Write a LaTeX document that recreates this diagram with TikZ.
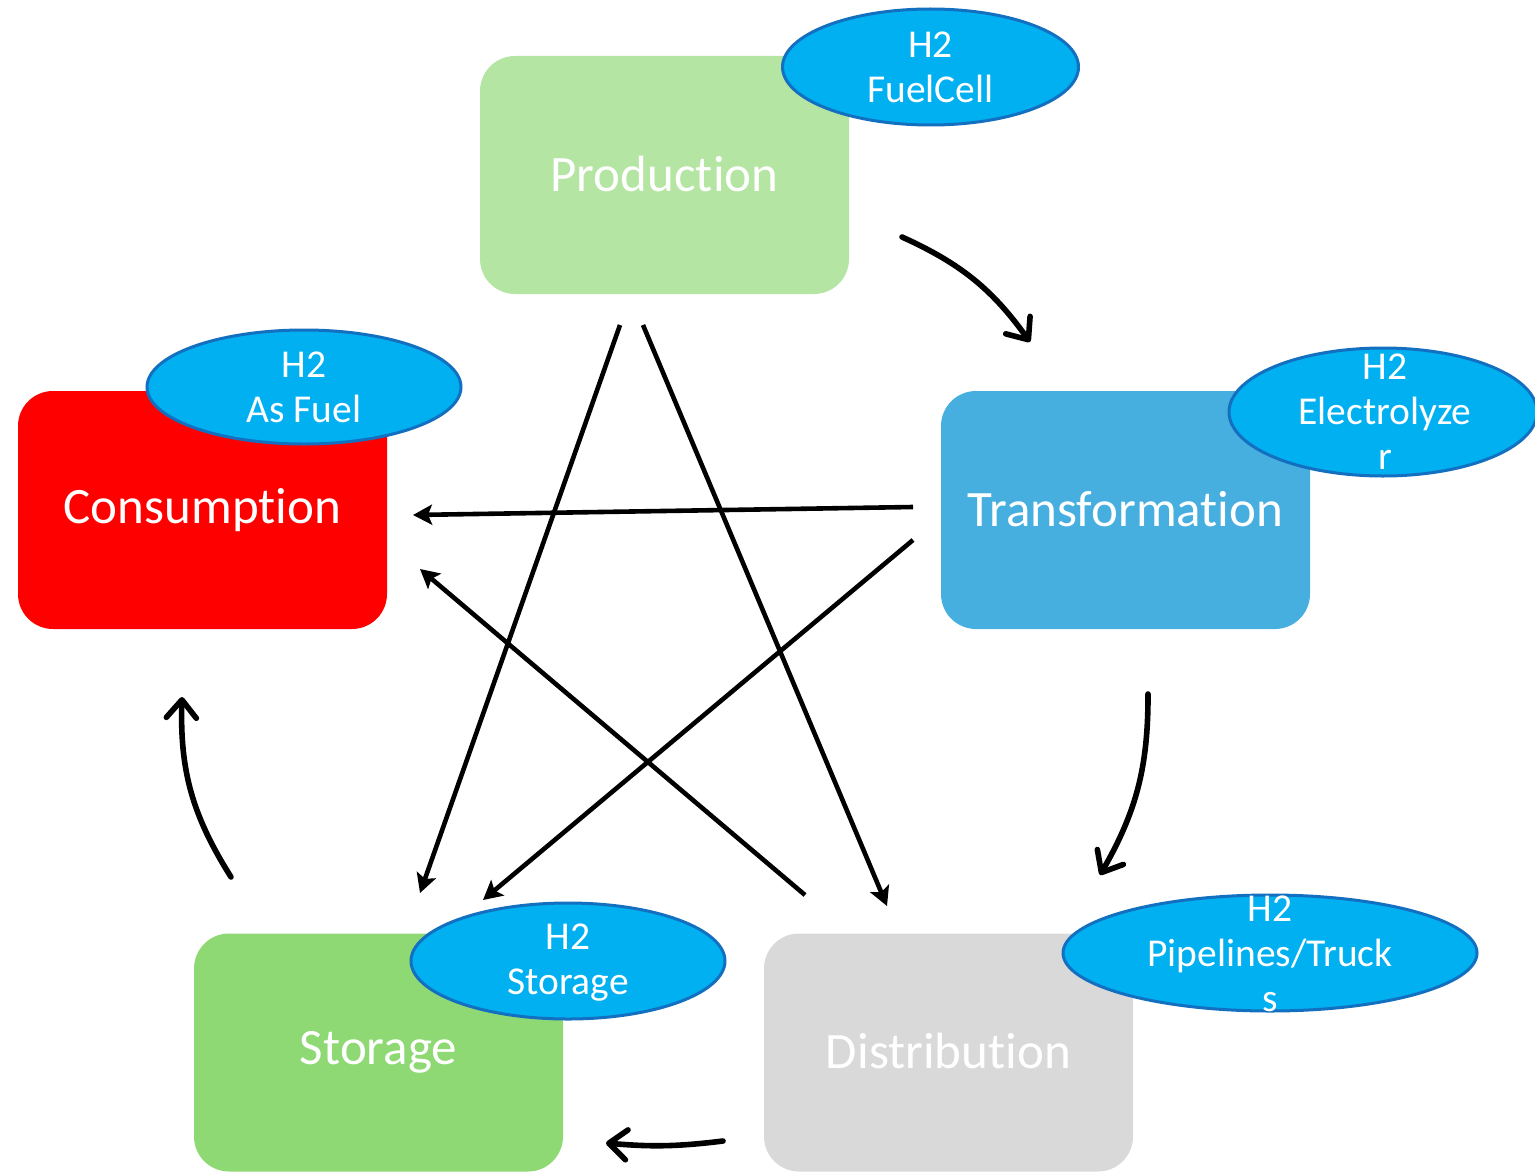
\documentclass[tikz,border=0pt]{standalone}
\usepackage{fontspec}
\newfontfamily\cf[Ligatures={NoCommon,NoContextual}]{Carlito}
\usetikzlibrary{arrows.meta,shapes.geometric}
\definecolor{prodc}{HTML}{B4E5A2}
\definecolor{consc}{HTML}{FF0000}
\definecolor{transc}{HTML}{47AFDF}
\definecolor{storc}{HTML}{8ED973}
\definecolor{distc}{HTML}{D9D9D9}
\definecolor{ellf}{HTML}{00B0F0}
\definecolor{elld}{HTML}{1370C0}
\tikzset{
  box/.style={rounded corners=17.5pt, minimum width=184.5pt, minimum height=119pt, inner sep=0pt, text=white, font=\cf\fontsize{25.5pt}{30pt}\selectfont},
  bubble/.style={ellipse, fill=ellf, draw=elld, line width=1.5pt, inner sep=0pt},
  btext/.style={text=white, align=center, inner sep=0pt, font=\cf\fontsize{19.75pt}{22.5pt}\selectfont},
  curv/.style={line width=2.8pt, -{Straight Barb[length=9pt,width=15pt,line cap=round,line join=round]}, line cap=round},
  strt/.style={line width=2.3pt, -{Stealth[length=9.5pt,width=10pt,inset=2pt]}}
}
\begin{document}
\begin{tikzpicture}[x=0.5pt,y=-0.5pt]
\useasboundingbox (0,0) rectangle (1535,1172);
% boxes
\node[box, fill=prodc] (prod) at (664.5,175) {\raisebox{1.5pt}{Production}};
\node[box, fill=consc] (cons) at (202.5,510) {\raisebox{1pt}{Consumpt\kern0pt ion}};
\node[box, fill=transc] (trans) at (1125.5,510) {\raisebox{1pt}{Transformat\kern0pt ion}};
\node[box, fill=storc] (stor) at (378.5,1052.5) {\raisebox{1.5pt}{Storage}};
\node[box, fill=distc] (dist) at (948.5,1052.5) {\raisebox{1.5pt}{Distribut\kern0pt ion}};
% bubbles
\node[bubble, minimum width=148pt, minimum height=58pt] (eFC) at (930.5,67) {};
\node[btext] (tFC) at (eFC) {H2\\FuelCell};
\node[bubble, minimum width=157pt, minimum height=57pt] (eAF) at (304,387) {};
\node[btext] (tAF) at (eAF) {H2\\As Fuel};
\node[bubble, minimum width=154pt, minimum height=64pt] (eEL) at (1383,412) {};
\node[btext] (tEL) at (1385,412) {H2\\Electrolyze\\r};
\node[bubble, minimum width=157pt, minimum height=58pt] (eST) at (568,961) {};
\node[btext] (tST) at (568,963) {H2\\Storage};
\node[bubble, minimum width=207pt, minimum height=58pt] (ePT) at (1270,953) {};
\node[btext] (tPT) at (1270,954) {H2\\Pipelines/Truck\\s};
% connector end points
\coordinate (a1s) at (902,237); \coordinate (a1e) at (1030,342);
\coordinate (a2s) at (1148,694); \coordinate (a2e) at (1100,875);
\coordinate (a3s) at (723,1141); \coordinate (a3e) at (606,1143);
\coordinate (a4s) at (231,877); \coordinate (a4e) at (182,697);
\coordinate (b1s) at (913,507); \coordinate (b1e) at (413,515);
\coordinate (b2s) at (913,540); \coordinate (b2e) at (483,900);
\coordinate (b3s) at (620,325); \coordinate (b3e) at (420,893);
\coordinate (b4s) at (643,325); \coordinate (b4e) at (887,906);
\coordinate (b5s) at (805,895); \coordinate (b5e) at (420,569);
% curved arrows
\draw[curv] (a1s) to[bend left=15] (a1e);
\draw[curv] (a2s) to[bend left=15] (a2e);
\draw[curv] (a3s) to[bend left=6] (a3e);
\draw[curv] (a4s) to[bend left=17] (a4e);
% straight arrows
\draw[strt] (b1s) -- (b1e);
\draw[strt] (b2s) -- (b2e);
\draw[strt] (b3s) -- (b3e);
\draw[strt] (b4s) -- (b4e);
\draw[strt] (b5s) -- (b5e);
\end{tikzpicture}
\end{document}
